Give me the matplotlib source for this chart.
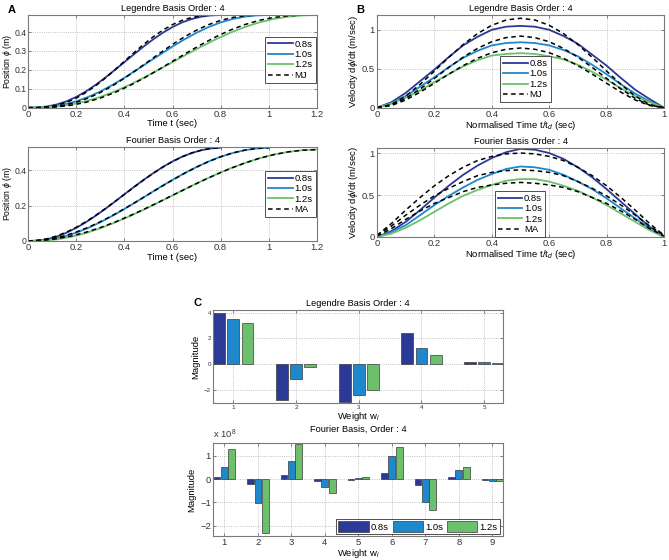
import numpy as np
import matplotlib
matplotlib.use("Agg")
import matplotlib.pyplot as plt

plt.rcParams["font.family"] = ["Liberation Sans", "DejaVu Sans"]
plt.rcParams["mathtext.fontset"] = "custom"
plt.rcParams["mathtext.rm"] = "Liberation Sans"
plt.rcParams["mathtext.it"] = "Liberation Sans:italic"

# ---------------------------------------------------------------------------
# data, normalised time grid s = t / t_d
# ---------------------------------------------------------------------------
durations = [0.8, 1.0, 1.2]
dur_labels = ["0.8s", "1.0s", "1.2s"]
s_grid = np.linspace(0, 1, 21)

# A top: Legendre fit position and minimum jerk (same shape for all durations)
leg_pos = [0, .0015, .0067, .0172, .0338, .0567, .0857, .1199, .1581, .1988, .2406,
           .2824, .3231, .3615, .3964, .4264, .4508, .469, .4812, .4879, .49]
mj_pos = [0, .0006, .0042, .013, .0284, .0507, .0799, .1152, .1555, .1994, .245,
          .2906, .3345, .3748, .4101, .4393, .4616, .477, .4858, .4894, .49]

# A bottom: Fourier fit position and MA
four_pos_08 = [0, .002, .010, .025, .047, .074, .106, .142, .181, .222, .264,
               .306, .346, .384, .419, .450, .477, .498, .514, .524, .528]
four_pos_10 = [0, .002, .010, .025, .047, .074, .106, .142, .181, .222, .264,
               .306, .346, .384, .419, .450, .477, .498, .514, .524, .528]
four_pos_12 = [0, .002, .009, .024, .045, .072, .104, .139, .177, .217, .258,
               .299, .339, .376, .411, .441, .468, .489, .504, .514, .518]
ma_pos_08 = [0, .0033, .0129, .0287, .0503, .0772, .1086, .1439, .1821, .2223, .2635,
             .3047, .3449, .3831, .4184, .4498, .4767, .4983, .5141, .5237, .527]
ma_pos_10 = [0, .0033, .0129, .0287, .0503, .0772, .1086, .1439, .1821, .2223, .2635,
             .3047, .3449, .3831, .4184, .4498, .4767, .4983, .5141, .5237, .527]
ma_pos_12 = [0, .0032, .0127, .0282, .0494, .0757, .1066, .1411, .1786, .2181, .2585,
             .2989, .3384, .3759, .4104, .4413, .4676, .4888, .5043, .5138, .517]

# B top: Legendre velocity and minimum jerk velocity
leg_vel_08 = [0, .07, .19, .34, .49, .65, .80, .91, 1.0, 1.04, 1.05,
              1.04, 1.0, .92, .82, .68, .54, .38, .23, .11, 0]
leg_vel_10 = [0, .06, .15, .27, .39, .52, .64, .73, .80, .83, .84,
              .83, .80, .74, .66, .55, .43, .30, .18, .08, 0]
leg_vel_12 = [0, .05, .13, .22, .33, .43, .53, .61, .67, .69, .70,
              .69, .66, .62, .55, .46, .36, .25, .15, .07, 0]
mj_vel_08 = [0, .041, .149, .299, .470, .646, .810, .951, 1.058, 1.126, 1.148,
             1.126, 1.058, .951, .810, .646, .470, .299, .149, .041, 0]
mj_vel_10 = [0, .033, .119, .239, .376, .517, .648, .761, .847, .900, .919,
             .900, .847, .761, .648, .517, .376, .239, .119, .033, 0]
mj_vel_12 = [0, .028, .099, .199, .314, .431, .540, .634, .706, .750, .766,
             .750, .706, .634, .540, .431, .314, .199, .099, .028, 0]

# B bottom: Fourier velocity and MA velocity
four_vel_08 = [0, .07, .18, .32, .47, .61, .74, .85, .94, 1.01, 1.05,
               1.04, 1.0, .93, .83, .71, .57, .42, .27, .12, 0]
four_vel_10 = [0, .06, .14, .26, .38, .49, .59, .68, .75, .81, .84,
               .83, .80, .74, .66, .57, .46, .34, .22, .10, 0]
four_vel_12 = [0, .04, .11, .20, .30, .40, .49, .56, .62, .67, .69,
               .69, .66, .61, .55, .47, .38, .28, .18, .08, 0]
ma_vel_08 = [.02, .16, .32, .47, .61, .73, .83, .91, .96, .99, 1.0,
             .99, .96, .91, .83, .73, .61, .47, .32, .16, .02]
ma_vel_10 = [.02, .13, .26, .38, .49, .58, .66, .73, .77, .79, .80,
             .79, .77, .73, .66, .58, .49, .38, .26, .13, .02]
ma_vel_12 = [.01, .10, .21, .31, .40, .47, .54, .59, .62, .64, .65,
             .64, .62, .59, .54, .47, .40, .31, .21, .10, .01]

# C: weights
leg_idx = [1, 2, 3, 4, 5]
leg_w_08 = [3.98, -2.73, -2.94, 2.44, 0.18]
leg_w_10 = [3.50, -1.17, -2.36, 1.27, 0.16]
leg_w_12 = [3.17, -0.21, -1.97, 0.70, 0.13]

four_idx = [1, 2, 3, 4, 5, 6, 7, 8, 9]
four_w_08_e8 = [0.07, -0.20, 0.17, -0.10, -0.02, 0.26, -0.26, 0.08, -0.03]
four_w_10_e8 = [0.51, -1.03, 0.77, -0.36, 0.05, 1.01, -1.00, 0.39, -0.07]
four_w_12_e8 = [1.30, -2.34, 1.49, -0.60, 0.10, 1.37, -1.34, 0.53, -0.10]

colors = ["#2b3a96", "#1d88cc", "#6cc06b"]
FS = 6.8      # tick / axis label size
TFS = 6.7     # title size


def style_axes(ax, fs=FS):
    ax.grid(True, ls=":", lw=0.6, color="#b0b0b0")
    ax.set_axisbelow(True)
    for sp in ax.spines.values():
        sp.set_color("#7a7a7a")
        sp.set_linewidth(0.8)
    ax.tick_params(direction="in", length=2, width=0.5, labelsize=fs, pad=1.5,
                   top=True, right=True, colors="#555555", labelcolor="#333333")


def legend(ax, **kw):
    leg = ax.legend(fontsize=FS, fancybox=False, edgecolor="#333333", framealpha=1,
                    borderpad=0.3, labelspacing=0.15, handlelength=2.6,
                    handletextpad=0.2, borderaxespad=0, **kw)
    leg.get_frame().set_linewidth(0.6)
    return leg


fig = plt.figure(figsize=(6.69, 5.6), dpi=100)
W, H = 669, 560


def add_ax(x0, y0, x1, y1):
    return fig.add_axes([x0 / W, 1 - y1 / H, (x1 - x0) / W, (y1 - y0) / H])


# ----- A -----
axA1 = add_ax(28, 15, 317, 107.7)
axA2 = add_ax(28, 147, 317, 241)
pos_fit = [leg_pos, leg_pos, leg_pos]
pos_ref = [mj_pos, mj_pos, mj_pos]
for ax, fits, refs, name, ymax, lp in [
        (axA1, pos_fit, pos_ref, "MJ", 0.49, 0.27),
        (axA2, [four_pos_08, four_pos_10, four_pos_12],
         [ma_pos_08, ma_pos_10, ma_pos_12], "MA", 0.532, 0.255)]:
    for T, y, c, lab in zip(durations, fits, colors, dur_labels):
        ax.plot(s_grid * T, y, color=c, lw=1.3, label=lab)
    for i, (T, y) in enumerate(zip(durations, refs)):
        ax.plot(s_grid * T, y, color="black", ls="--", lw=1.1,
                dashes=(3, 2.3), label=name if i == 0 else None)
    ax.set_xlim(0, 1.2)
    ax.set_ylim(0, ymax)
    ax.set_xticks([0, 0.2, 0.4, 0.6, 0.8, 1.0, 1.2])
    ax.set_xticklabels(["0", "0.2", "0.4", "0.6", "0.8", "1", "1.2"])
    ax.set_xlabel("Time t (sec)", fontsize=FS, labelpad=0.5)
    ax.set_ylabel("Position $\\phi$ (m)", fontsize=6.2)
    style_axes(ax)
    ax.tick_params(axis="y", labelsize=6.2, pad=0.8)
    ax.yaxis.set_label_coords(-0.05, 0.5)
    legend(ax, loc="lower right", bbox_to_anchor=(0.995, lp))
axA1.set_yticks([0, 0.1, 0.2, 0.3, 0.4])
axA1.set_yticklabels(["0", "0.1", "0.2", "0.3", "0.4"])
axA2.set_yticks([0, 0.2, 0.4])
axA2.set_yticklabels(["0", "0.2", "0.4"])
axA1.set_title("Legendre Basis Order : 4", fontsize=TFS, pad=3)
axA2.set_title("Fourier Basis Order : 4", fontsize=TFS, pad=3)

# ----- B -----
axB1 = add_ax(377, 15, 664, 107.7)
axB2 = add_ax(377, 148, 664, 237)
for ax, fits, refs, name, ymax, lx, ly in [
        (axB1, [leg_vel_08, leg_vel_10, leg_vel_12],
         [mj_vel_08, mj_vel_10, mj_vel_12], "MJ", 1.19, 0.43, 0.06),
        (axB2, [four_vel_08, four_vel_10, four_vel_12],
         [ma_vel_08, ma_vel_10, ma_vel_12], "MA", 1.06, 0.41, 0.0)]:
    for y, c, lab in zip(fits, colors, dur_labels):
        ax.plot(s_grid, y, color=c, lw=1.3, label=lab)
    for i, y in enumerate(refs):
        ax.plot(s_grid, y, color="black", ls="--", lw=1.1,
                dashes=(3, 2.3), label=name if i == 0 else None)
    ax.set_xlim(0, 1)
    ax.set_ylim(0, ymax)
    ax.set_xticks([0, 0.2, 0.4, 0.6, 0.8, 1.0])
    ax.set_xticklabels(["0", "0.2", "0.4", "0.6", "0.8", "1"])
    ax.set_yticks([0, 0.5, 1.0])
    ax.set_yticklabels(["0", "0.5", "1"])
    ax.set_xlabel("Normalised Time t/t$_d$ (sec)", fontsize=FS, labelpad=0)
    ax.set_ylabel("Velocity d$\\phi$/dt (m/sec)", fontsize=FS)
    ax.yaxis.set_label_coords(-0.058, 0.5)
    style_axes(ax)
    legend(ax, loc="lower left", bbox_to_anchor=(lx, ly))
axB1.set_title("Legendre Basis Order : 4", fontsize=TFS, pad=3)
axB2.set_title("Fourier Basis Order : 4", fontsize=TFS, pad=3)

# ----- C -----
axC1 = add_ax(213, 310, 503, 403)
axC2 = add_ax(213, 443, 503, 536)
x1 = np.array(leg_idx)
for o, w, c in zip([-0.225, 0.0, 0.225], [leg_w_08, leg_w_10, leg_w_12], colors):
    axC1.bar(x1 + o, w, width=0.19, color=c, edgecolor="#3a3a3a", linewidth=0.5)
axC1.set_xlim(0.675, 5.3)
axC1.set_ylim(-3.0, 4.2)
axC1.set_xticks(leg_idx)
axC1.set_yticks([-2, 0, 2, 4])
axC1.set_xlabel("Weight w$_i$", fontsize=FS, labelpad=0)
axC1.set_ylabel("Magnitude", fontsize=FS)
axC1.yaxis.set_label_coords(-0.045, 0.5)
axC1.set_title("Legendre Basis Order : 4", fontsize=TFS, pad=3)
style_axes(axC1, fs=4.5)

x2 = np.array(four_idx)
for o, w, c, lab in zip([-0.22, 0.0, 0.22], [four_w_08_e8, four_w_10_e8, four_w_12_e8],
                        colors, dur_labels):
    axC2.bar(x2 + o, w, width=0.2, color=c, edgecolor="#3a3a3a", linewidth=0.5, label=lab)
axC2.set_xlim(0.66, 9.32)
axC2.set_ylim(-2.45, 1.55)
axC2.set_xticks(four_idx)
axC2.set_yticks([-2, -1, 0, 1])
axC2.set_yticklabels(["\u22122", "\u22121", "0", "1"])
axC2.set_xlabel("Weight w$_i$", fontsize=FS, labelpad=0)
axC2.set_ylabel("Magnitude", fontsize=FS)
axC2.yaxis.set_label_coords(-0.058, 0.5)
axC2.set_title("Fourier Basis, Order : 4", fontsize=TFS, pad=8)
axC2.text(0.0, 1.02, "x 10$^{8}$", transform=axC2.transAxes, fontsize=FS,
          ha="left", va="bottom", color="#333333")
style_axes(axC2)
leg = axC2.legend(fontsize=FS, fancybox=False, edgecolor="#333333", framealpha=1,
                  loc="lower right", bbox_to_anchor=(0.99, 0.02), ncol=3,
                  borderpad=0.25, handlelength=3.2, handleheight=1.3,
                  handletextpad=0.25, columnspacing=0.4, borderaxespad=0)
leg.get_frame().set_linewidth(0.6)

# panel letters
for x, y, t in [(8, 10, "A"), (356, 10, "B"), (193, 303, "C")]:
    fig.text(x / W, 1 - y / H, t, fontsize=8, fontweight="bold", ha="left", va="center")

fig.savefig("out.png", dpi=100)
